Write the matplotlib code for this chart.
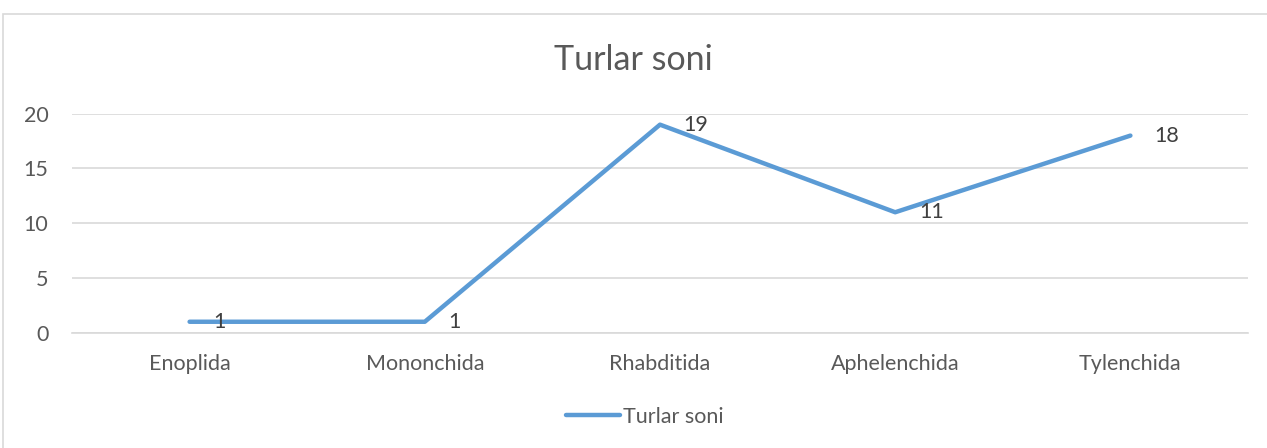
import matplotlib
matplotlib.use("Agg")
import matplotlib.pyplot as plt
from matplotlib.patches import Rectangle
from matplotlib.lines import Line2D

categories = ["Enoplida", "Mononchida", "Rhabditida", "Aphelenchida", "Tylenchida"]
values = [1, 1, 19, 11, 18]
series_name = "Turlar soni"
title = "Turlar soni"
yticks = [0, 5, 10, 15, 20]

plt.rcParams['font.family'] = ['Lato', 'DejaVu Sans']
W, H = 1267, 448
fig = plt.figure(figsize=(W / 100, H / 100), dpi=100)
fig.patch.set_facecolor("white")

# outer chart border
fig.patches.append(Rectangle((3 / W, -0.1), 1.1, 1 - 14 / H + 0.1, transform=fig.transFigure,
                             fill=False, edgecolor="#D9D9D9", linewidth=1.2))

left, right = 72 / W, 1248 / W
bottom, top = 1 - 332.7 / H, 1 - 113.7 / H
ax = fig.add_axes([left, bottom, right - left, top - bottom])

x = list(range(len(categories)))
ax.plot(x, values, color="#5B9BD5", linewidth=3.2, solid_capstyle="round",
        solid_joinstyle="round", label=series_name, zorder=3)

ax.set_xlim(-0.5, len(categories) - 0.5)
ax.set_ylim(0, 20)
ax.set_yticks(yticks)
ax.set_xticks(x)
ax.set_xticklabels(categories)
ax.grid(axis="y", color="#D9D9D9", linewidth=1.2)
ax.set_axisbelow(True)
for s in ["top", "right", "left"]:
    ax.spines[s].set_visible(False)
ax.spines["bottom"].set_color("#D9D9D9")
ax.spines["bottom"].set_linewidth(1.2)
ax.tick_params(axis="both", length=0, labelsize=15.5, colors="#595959")
ax.tick_params(axis="y", pad=17)
ax.tick_params(axis="x", pad=15)

for xi, v in zip(x, values):
    ax.annotate(str(v), (xi, v), xytext=(17, 0), textcoords="offset points",
                ha="left", va="center", fontsize=15.5, color="#404040")

fig.text(0.5, 1 - 60 / H, title, ha="center", va="center", fontsize=24.5, color="#595959")

handle = Line2D([], [], color="#5B9BD5", linewidth=3.2, solid_capstyle="round")
fig.legend([handle], [series_name], loc="center", bbox_to_anchor=(645 / W, 1 - 417 / H),
           frameon=False, fontsize=15.5, handlelength=2.5, handletextpad=0.15,
           labelcolor="#595959")

fig.savefig("out.png", dpi=100, facecolor="white")
